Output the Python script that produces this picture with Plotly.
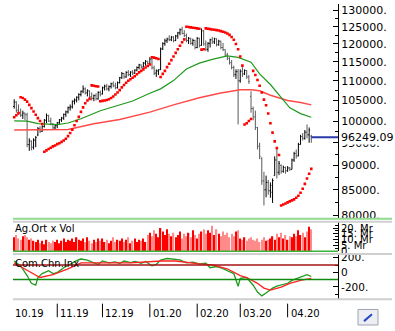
import math
import plotly.graph_objects as go
from plotly.subplots import make_subplots

# Daily bars, trading-day index 0 = 3 Oct 2019 ... 138 = 16 Apr 2020
open_ = [
    103500, 104600, 102600, 102000, 101400, 101900, 101500, 94600, 95400, 94000,
    95600, 96800, 98200, 97600, 98700, 100200, 101300, 100000, 99300, 98400,
    98900, 99600, 100300, 100700, 101600, 102200, 103200, 103400, 104800, 105100,
    105800, 106500, 107300, 107900, 106900, 107400, 105900, 105500, 106200, 105400,
    107000, 106600, 108200, 108600, 107900, 108500, 109200, 108700, 108200, 109500,
    110800, 111900, 111000, 112200, 111600, 112300, 112000, 112800, 113500, 114200,
    113600, 114700, 115200, 114600, 115800, 113400, 112000, 112600, 113000, 118600,
    120100, 120900, 121400, 121200, 122000, 121000, 122300, 123200, 124100, 123000,
    122400, 121000, 121600, 120200, 121000, 119000, 121600, 119600, 123800, 120000,
    118500, 120200, 121200, 120600, 121500, 119800, 120800, 119000, 118400, 116900,
    116000, 114800, 113500, 111600, 112400, 110000, 112500, 111800, 112700, 111000,
    106000, 103000, 101000, 98500, 94200, 91500, 86800, 85000, 86500, 84800,
    84500, 87900, 91200, 88600, 90000, 88800, 89600, 88900, 89500, 89200,
    91200, 92600, 92100, 94600, 96400, 96000, 97400, 96800, 96500,
]
high = [
    105300, 104800, 104000, 103000, 102500, 102000, 102000, 96000, 95500, 96000,
    96500, 98600, 98800, 99000, 100500, 101800, 101500, 100800, 99500, 99200,
    99800, 100500, 101000, 101800, 102500, 103500, 104000, 105000, 105500, 106000,
    106800, 107500, 108800, 108300, 107800, 107500, 107000, 106500, 106800, 107300,
    107500, 108500, 109000, 109200, 108800, 109500, 109800, 109500, 109800, 111000,
    112300, 112000, 112500, 112800, 112500, 112800, 113000, 113800, 114500, 114300,
    115000, 115500, 115300, 116300, 116000, 114000, 113000, 113000, 119000, 120500,
    121500, 121800, 122500, 122300, 122200, 122600, 123500, 124500, 125000, 124000,
    123000, 122000, 121800, 121500, 121200, 122000, 121800, 124500, 124000, 121000,
    120500, 121500, 122000, 121800, 121600, 121200, 120900, 120300, 118500, 117500,
    116300, 115500, 114000, 113000, 113100, 113000, 113600, 113000, 112800, 111500,
    107300, 103500, 102500, 98600, 95000, 91800, 88700, 87900, 87000, 86500,
    87300, 92000, 93500, 91000, 90300, 90000, 89800, 89900, 89700, 91500,
    93000, 93500, 95000, 96800, 97200, 97900, 99200, 98500, 96800,
]
low = [
    103000, 102000, 101500, 101000, 100500, 100200, 94000, 93200, 93300, 93500,
    94000, 96500, 97200, 97500, 98500, 99500, 99800, 99000, 98000, 98000,
    98300, 99200, 99800, 100300, 101000, 101800, 102500, 103000, 104000, 104500,
    105000, 106000, 106800, 106500, 106000, 105500, 105000, 104800, 105000, 105200,
    106000, 106500, 107500, 107500, 107300, 108000, 108300, 107800, 108000, 109300,
    110500, 110500, 110800, 111200, 111000, 111500, 111800, 112500, 113000, 113200,
    113500, 114000, 114300, 114500, 113000, 111500, 111000, 111500, 112800, 118300,
    119500, 120300, 120800, 120800, 120500, 120800, 121500, 122500, 122800, 122000,
    120500, 120000, 119800, 119500, 118500, 118800, 119000, 119500, 119500, 118000,
    117800, 119000, 120000, 120000, 119300, 119500, 118500, 118000, 116500, 115500,
    114300, 113000, 111000, 110500, 99200, 109500, 111000, 111500, 110500, 109200,
    102000, 100200, 97900, 93500, 91400, 86000, 81900, 83500, 84000, 83400,
    82400, 87900, 87300, 88000, 88300, 88500, 88300, 88700, 88900, 89200,
    90800, 91500, 92000, 94600, 95500, 95700, 96000, 95000, 95000,
]
close = [
    104600, 102600, 102000, 101400, 101900, 101500, 94600, 95400, 94000, 95600,
    96200, 98200, 97600, 98700, 100200, 101300, 100000, 99300, 98400, 98900,
    99600, 100300, 100700, 101600, 102200, 103200, 103400, 104800, 105100, 105800,
    106500, 107300, 107900, 106900, 107400, 105900, 105500, 106200, 105400, 107000,
    106600, 108200, 108600, 107900, 108500, 109200, 108700, 108200, 109500, 110800,
    111900, 111000, 112200, 111600, 112300, 112000, 112800, 113500, 114200, 113600,
    114700, 115200, 114600, 115800, 113400, 112000, 112600, 112900, 118600, 120100,
    120900, 121400, 121200, 122000, 121000, 122300, 123200, 124100, 123000, 122400,
    121000, 121600, 120200, 121000, 119000, 121600, 119600, 123800, 120000, 118500,
    120200, 121200, 120600, 121500, 119800, 120800, 119000, 118400, 116900, 116000,
    114800, 113500, 111600, 112400, 110000, 112500, 111800, 112700, 111000, 109800,
    103000, 101000, 98500, 94200, 92000, 86800, 85000, 86500, 84800, 85900,
    86900, 91200, 88600, 90500, 88800, 89600, 88900, 89500, 89200, 91200,
    92600, 92100, 94600, 96400, 96000, 97400, 96800, 97900, 96249.09,
]
# Parabolic SAR, one dot per bar
sar = [
    100900, 101400, 101900, 105800, 105600, 105200, 104700, 103900, 103100, 102300,
    101500, 100700, 100000, 99300, 93000, 93300, 93600, 93900, 94200, 94400,
    94700, 94900, 95200, 95500, 95900, 96500, 97200, 98000, 99000, 100000,
    101000, 102200, 103300, 104300, 105000, 105400, 108800, 108700, 108600, 108500,
    104800, 104900, 105000, 105100, 105300, 105600, 106000, 106500, 107000, 107600,
    108300, 108900, 109500, 110000, 110400, 110800, 111200, 111700, 112200, 112600,
    113000, 113500, 113900, 114300, 116300, 116200, 116000, 115800, 111000, 111800,
    112600, 113600, 114500, 115500, 116500, 117500, 118500, 119500, 120500, 121300,
    125000, 124900, 124800, 124700, 124600, 124500, 124400, 118400, 118500, 124500,
    124400, 124300, 124200, 124100, 124000, 123900, 123700, 123500, 123300, 123000,
    122600, 122000, 121200, 120000, 118500, 116500, 114000, 99200, 99500, 100000,
    100500, 112600, 111500, 110200, 108700, 107000, 105200, 103800, 101800, 99500,
    97300, 95300, 93800, 92300, 81900, 82100, 82300, 82500, 82700, 82900,
    83100, 83400, 83800, 84400, 85200, 86200, 87300, 88300, 89300,
]
# Volume, in Mr
volume_mr = [
    12, 14, 11, 10, 13, 14, 12, 10, 11, 9,
    8, 10, 7, 9, 6, 10, 8, 7, 9, 8,
    10, 7, 9, 11, 8, 10, 9, 11, 8, 12,
    10, 9, 11, 8, 12, 9, 7, 10, 8, 11,
    9, 11, 8, 10, 7, 9, 12, 8, 10, 9,
    11, 8, 10, 12, 7, 9, 11, 8, 10, 9,
    11, 8, 14, 16, 13, 18, 15, 12, 20, 17,
    14, 19, 15, 13, 16, 12, 14, 17, 11, 15,
    13, 16, 12, 18, 14, 11, 15, 17, 19, 15,
    18, 16, 22, 14, 19, 15, 13, 17, 14, 16,
    12, 15, 13, 17, 18, 11, 10, 12, 9, 11,
    12, 10, 9, 11, 8, 10, 12, 9, 10, 11,
    13, 10, 15, 12, 16, 11, 14, 10, 13, 12,
    15, 13, 18, 14, 16, 12, 17, 21, 19,
]
# Moving averages
ma_short_idx = [0, 6, 11, 20, 25, 31, 40, 48, 55, 63, 68, 74, 80, 86, 92, 99,
                104, 110, 114, 119, 124, 128, 133, 138]
ma_short = [100050, 100000, 99400, 99180, 99540, 100550, 102480, 103670, 104860,
            106800, 107910, 110040, 113110, 114680, 115730, 116660, 116260,
            114940, 111820, 109030, 105590, 103190, 101780, 100900]
ma_long_idx = [0, 25, 37, 49, 63, 74, 86, 96, 105, 110, 114, 119, 127, 133, 138]
ma_long = [97890, 98050, 99360, 100390, 102130, 103900, 105660, 106880, 107670,
           107710, 107420, 106300, 104980, 104500, 103900]
# Commodity Channel Index and its signal line
cci_idx = [0, 3, 6, 8, 10, 11, 13, 16, 18, 20, 23, 26, 29, 31, 34, 37, 39, 41, 44,
           47, 49, 51, 54, 56, 59, 61, 64, 66, 68, 71, 74, 77, 80, 83, 86, 89, 91,
           94, 96, 99, 102, 104, 105, 108, 110, 111, 113, 115, 117, 120, 122, 125,
           127, 129, 131, 133, 136, 138]
cci = [156, 89, -44, -151, -177, -71, -17, 23, -17, -4, 63, 116, 160, 183, 169,
       129, 110, 156, 130, 143, 120, 156, 135, 150, 125, 150, 89, 110, 169, 190,
       183, 170, 129, 140, 116, 125, 63, 80, 63, 23, -17, -191, -84, -71, -137,
       -177, -271, -324, -284, -217, -190, -164, -150, -111, -90, -71, -31, -57]
cci_sig_idx = [0, 4, 9, 12, 18, 25, 31, 40, 54, 68, 75, 86, 92, 99, 105, 108, 113,
               116, 119, 124, 128, 133, 138]
cci_sig = [129, 63, -17, -71, -31, 49, 129, 129, 129, 156, 156, 116, 103, 49, -44,
           -71, -151, -217, -244, -204, -151, -111, -84]

month_tick_idx = [20, 41, 63, 85, 105, 127]
month_labels = ["11.19", "12.19", "01.20", "02.20", "03.20", "04.20"]
first_month_label = "10.19"
price_ticks = [80000, 85000, 90000, 95000, 100000, 105000, 110000, 115000,
               120000, 125000, 130000]
price_minor = [82500, 87500, 92500, 97500, 102500, 107500, 112500, 117500,
               122500, 127500]
vol_ticks = [0, 5, 10, 15, 20]
vol_labels = ["0", "5. Mr", "10. Mr", "15. Mr", "20. Mr"]
cci_ticks = [-200, 0, 200]
cci_labels = ["-200.", "0", "200."]

W, H = 395, 331
ML, MR = 12, 57
FONT = "DejaVu Sans"
n = len(close)
xr = [-1.02, 150.4]


def py(px):
    """Paper y for a pixel row measured from the top."""
    return 1 - px / H


def px_x(px):
    """Paper x for a pixel column."""
    return (px - ML) / (W - ML - MR)


fig = make_subplots(rows=3, cols=1, shared_xaxes=True, vertical_spacing=0)

idx = list(range(n))

fig.add_trace(go.Ohlc(
    x=idx, open=open_, high=high, low=low, close=close,
    increasing=dict(line=dict(color="#000000", width=1)),
    decreasing=dict(line=dict(color="#5a5a5a", width=1)),
    tickwidth=0.45, hoverinfo="skip"), row=1, col=1)

fig.add_trace(go.Scatter(x=ma_long_idx, y=ma_long, mode="lines",
                         line=dict(color="#ff4a4a", width=1.5)), row=1, col=1)
fig.add_trace(go.Scatter(x=ma_short_idx, y=ma_short, mode="lines",
                         line=dict(color="#1f9a1f", width=1.2)), row=1, col=1)
fig.add_trace(go.Scatter(x=idx, y=sar, mode="markers",
                         marker=dict(symbol="square", size=2.6, color="#ff0000",
                                     line=dict(width=0))), row=1, col=1)
fig.add_trace(go.Scatter(x=[n - 1, xr[1]], y=[close[-1], close[-1]], mode="lines",
                         line=dict(color="#2a3aa8", width=2)), row=1, col=1)

vol_colors = ["#ff0000" if c >= o else "#ff8a8a" for o, c in zip(open_, close)]
fig.add_trace(go.Bar(x=idx, y=volume_mr, marker=dict(color=vol_colors, line=dict(width=0))),
              row=2, col=1)

fig.add_trace(go.Scatter(x=cci_idx, y=cci, mode="lines",
                         line=dict(color="#1f9a1f", width=1.3)), row=3, col=1)
fig.add_trace(go.Scatter(x=cci_sig_idx, y=cci_sig, mode="lines",
                         line=dict(color="#ff2020", width=1.3)), row=3, col=1)

fig.update_layout(
    width=W, height=H, margin=dict(l=ML, r=MR, t=0, b=0),
    paper_bgcolor="white", plot_bgcolor="white", showlegend=False,
    font=dict(family=FONT, size=11, color="black"), bargap=0.4,
)

for k in ["xaxis", "xaxis2", "xaxis3"]:
    fig.layout[k].update(range=xr, showgrid=False, zeroline=False, showline=False,
                         showticklabels=False, ticks="")
fig.layout.xaxis.rangeslider.visible = False

axis_common = dict(side="right", showgrid=False, zeroline=False, showline=True,
                   linecolor="black", linewidth=1, ticks="inside", tickcolor="black",
                   ticklen=5)
fig.layout.yaxis.update(
    domain=[py(221.5), 1], type="log",
    range=[math.log10(79360), math.log10(131900)],
    tickvals=price_ticks, ticktext=[f"{v}." for v in price_ticks],
    tickfont=dict(family=FONT, size=11),
    minor=dict(tickvals=price_minor, ticks="inside", ticklen=3, tickcolor="black"),
    **axis_common)
fig.layout.yaxis2.update(
    domain=[py(255), py(225)], range=[0, 25],
    tickvals=vol_ticks, ticktext=vol_labels, tickfont=dict(family=FONT, size=10),
    minor=dict(tickvals=[2.5, 7.5, 12.5, 17.5, 22.5], ticks="inside", ticklen=3,
               tickcolor="black"),
    **axis_common)
fig.layout.yaxis3.update(
    domain=[py(304), py(259)], range=[-364, 236],
    tickvals=cci_ticks, ticktext=cci_labels, tickfont=dict(family=FONT, size=10.5),
    minor=dict(tickvals=[-300, -100, 100], ticks="inside", ticklen=3,
               tickcolor="black"),
    **axis_common)

shapes = [
    # panel separators
    dict(type="line", xref="paper", yref="paper", x0=px_x(13), x1=px_x(392),
         y0=py(221.5), y1=py(221.5), line=dict(color="#8fdc8f", width=2)),
    dict(type="line", xref="paper", yref="paper", x0=px_x(13), x1=px_x(392),
         y0=py(224.5), y1=py(224.5), line=dict(color="#cfcfcf", width=2)),
    dict(type="line", xref="paper", yref="paper", x0=px_x(13), x1=1,
         y0=py(255), y1=py(255), line=dict(color="#3cb43c", width=1.5)),
    dict(type="line", xref="paper", yref="paper", x0=px_x(13), x1=px_x(392),
         y0=py(257.8), y1=py(257.8), line=dict(color="#cfcfcf", width=2)),
    dict(type="line", xref="paper", yref="paper", x0=px_x(13), x1=px_x(392),
         y0=py(304.5), y1=py(304.5), line=dict(color="#cfcfcf", width=2)),
    # CCI +100 / -100 levels
    dict(type="line", xref="paper", yref="y3", x0=px_x(13), x1=1, y0=100, y1=100,
         line=dict(color="#a51515", width=1.5)),
    dict(type="line", xref="paper", yref="y3", x0=px_x(13), x1=1, y0=-100, y1=-100,
         line=dict(color="#108a10", width=1.5)),
    # small edit button
    dict(type="rect", xref="paper", yref="paper", x0=px_x(358), x1=px_x(378),
         y0=py(331), y1=py(315), fillcolor="#eceef4", line=dict(color="#a0a4b4", width=1)),
    dict(type="line", xref="paper", yref="paper", x0=px_x(364), x1=px_x(372),
         y0=py(327), y1=py(320), line=dict(color="#2448c8", width=2)),
]
# month ticks on the time strip below the panels
for t in month_tick_idx:
    shapes.append(dict(type="line", xref="x3", yref="paper", x0=t, x1=t,
                       y0=py(323), y1=py(309), line=dict(color="black", width=1)))
fig.update_layout(shapes=shapes)

ann = [
    dict(x=px_x(13), xref="paper", y=py(232), yref="paper", text="Ag.Ort x Vol",
         showarrow=False, xanchor="left", yanchor="middle",
         font=dict(family=FONT, size=10, color="black")),
    dict(x=px_x(13), xref="paper", y=py(268), yref="paper", text="Com.Chn.Inx",
         showarrow=False, xanchor="left", yanchor="middle",
         font=dict(family=FONT, size=10, color="black")),
    dict(x=1, xref="paper", y=math.log10(close[-1]), yref="y", text=f"{close[-1]:.2f}",
         showarrow=False, xanchor="left", yanchor="middle", xshift=2,
         bgcolor="white", borderpad=0, font=dict(family=FONT, size=11, color="black")),
    dict(x=px_x(13), xref="paper", y=py(319), yref="paper", text=first_month_label,
         showarrow=False, xanchor="left", yanchor="middle",
         font=dict(family=FONT, size=10, color="black")),
]
for t, lab in zip(month_tick_idx, month_labels):
    ann.append(dict(x=t, xref="x3", y=py(319), yref="paper", text=lab, showarrow=False,
                    xanchor="left", yanchor="middle", xshift=1,
                    font=dict(family=FONT, size=10, color="black")))
fig.update_layout(annotations=ann)

fig.write_html("out.html")
